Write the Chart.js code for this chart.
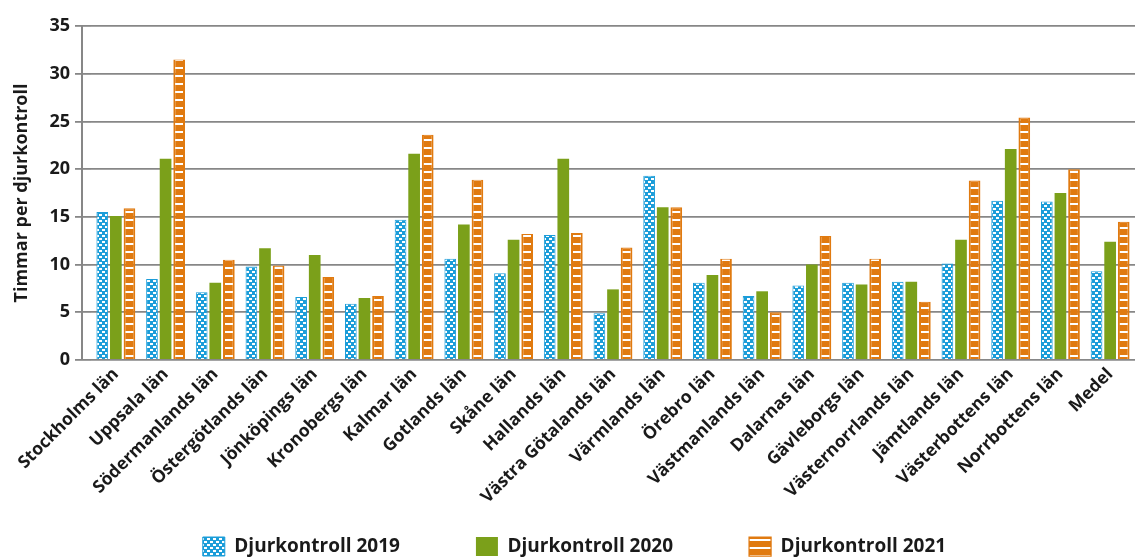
<!DOCTYPE html>
<html>
<head>
<meta charset="utf-8">
<script src="https://cdn.jsdelivr.net/npm/chart.js@4"></script>
<style>
  html, body { margin: 0; padding: 0; background: #fff; }
  #wrap { width: 1135px; height: 560px; }
</style>
</head>
<body>
<div id="wrap"><canvas id="barChart" width="1135" height="560"></canvas></div>
<script>
var categories = ['Stockholms län', 'Uppsala län', 'Södermanlands län', 'Östergötlands län', 'Jönköpings län',
  'Kronobergs län', 'Kalmar län', 'Gotlands län', 'Skåne län', 'Hallands län', 'Västra Götalands län',
  'Värmlands län', 'Örebro län', 'Västmanlands län', 'Dalarnas län', 'Gävleborgs län', 'Västernorrlands län',
  'Jämtlands län', 'Västerbottens län', 'Norrbottens län', 'Medel'];
var values2019 = [15.5, 8.5, 7.1, 9.8, 6.6, 5.9, 14.7, 10.6, 9.1, 13.1, 4.9, 19.3, 8.1, 6.7, 7.8, 8.1, 8.2, 10.1, 16.7, 16.6, 9.3];
var values2020 = [15.1, 21.1, 8.1, 11.7, 11.0, 6.5, 21.6, 14.2, 12.6, 21.1, 7.4, 16.0, 8.9, 7.2, 10.0, 7.9, 8.2, 12.6, 22.1, 17.5, 12.4];
var values2021 = [15.9, 31.5, 10.5, 9.9, 8.7, 6.7, 23.6, 18.9, 13.2, 13.3, 11.8, 16.0, 10.6, 5.0, 13.0, 10.6, 6.1, 18.8, 25.4, 20.0, 14.5];
var seriesNames = ['Djurkontroll 2019', 'Djurkontroll 2020', 'Djurkontroll 2021'];
var yMin = 0, yMax = 35, yStep = 5;

var blue = '#1b9dd9';
var green = '#7ba01a';
var orange = '#e07a10';
var textColor = '#1a1a1a';
var gridColor = '#878787';
var fontFamily = '"Open Sans", "DejaVu Sans", sans-serif';
var legendGap = 76;

// small dashed brick pattern for 2019
function dotPattern() {
  var c = document.createElement('canvas');
  c.width = 6; c.height = 6;
  var g = c.getContext('2d');
  g.fillStyle = blue;
  g.fillRect(0, 0, 6, 6);
  g.fillStyle = '#ffffff';
  g.fillRect(0, 1, 3, 2);
  g.fillRect(3, 4, 3, 2);
  return g.createPattern(c, 'repeat');
}

// horizontal stripes for 2021
function stripePattern() {
  var c = document.createElement('canvas');
  c.width = 8; c.height = 8;
  var g = c.getContext('2d');
  g.fillStyle = orange;
  g.fillRect(0, 0, 8, 8);
  g.fillStyle = '#ffffff';
  g.fillRect(0, 3, 8, 2);
  return g.createPattern(c, 'repeat');
}

// vertical axis line sits a little left of the first category
var yAxisLine = {
  id: 'yAxisLine',
  beforeDatasetsDraw: function (chart) {
    var ctx = chart.ctx;
    var y = chart.scales.y;
    var x = chart.chartArea.left - 9;
    ctx.save();
    ctx.strokeStyle = gridColor;
    ctx.lineWidth = 2;
    ctx.beginPath();
    ctx.moveTo(x, y.getPixelForValue(yMax));
    ctx.lineTo(x, y.getPixelForValue(yMin));
    ctx.stroke();
    ctx.restore();
  }
};

// legend rows start at top + padding, so lift the box to keep the wide item gap
var legendPlace = {
  id: 'legendPlace',
  afterLayout: function (chart) {
    var lg = chart.legend;
    lg.top = 537 - legendGap;
    lg.bottom = chart.height;
    lg.height = lg.bottom - lg.top;
    lg.left = 14;
    lg.right = chart.width;
    lg.width = lg.right - lg.left;
  }
};

var ctx = document.getElementById('barChart');
var barChart = new Chart(ctx, {
  type: 'bar',
  data: {
    labels: categories,
    datasets: [{
      label: seriesNames[0],
      data: values2019,
      backgroundColor: dotPattern(),
      borderColor: blue,
      borderWidth: 1
    }, {
      label: seriesNames[1],
      data: values2020,
      backgroundColor: green,
      borderWidth: 0
    }, {
      label: seriesNames[2],
      data: values2021,
      backgroundColor: stripePattern(),
      borderColor: orange,
      borderWidth: { left: 2, right: 2, top: 1, bottom: 0 }
    }]
  },
  plugins: [yAxisLine, legendPlace],
  options: {
    responsive: false,
    animation: false,
    layout: { padding: { top: 26, left: 0, right: 0, bottom: 0 } },
    datasets: { bar: { categoryPercentage: 0.82, barPercentage: 0.86 } },
    plugins: {
      tooltip: { enabled: false },
      legend: {
        position: 'bottom',
        maxHeight: 24,
        labels: {
          color: textColor,
          font: { family: fontFamily, size: 19, weight: 'bold' },
          boxWidth: 22,
          boxHeight: 19,
          padding: legendGap
        }
      }
    },
    scales: {
      x: {
        afterFit: function (scale) { scale.height = 176; },
        grid: { display: false, drawTicks: false },
        border: { display: false },
        ticks: {
          color: textColor,
          font: { family: fontFamily, size: 17.5, weight: 'bold' },
          maxRotation: 45,
          minRotation: 45,
          autoSkip: false,
          padding: 4
        }
      },
      y: {
        min: yMin,
        max: yMax,
        afterFit: function (scale) { scale.width = 91; },
        border: { display: false },
        grid: { color: gridColor, lineWidth: 1.8, tickLength: 16 },
        ticks: {
          stepSize: yStep,
          color: textColor,
          padding: 5,
          font: { family: fontFamily, size: 18, weight: 'bold' }
        },
        title: {
          display: true,
          text: 'Timmar per djurkontroll',
          color: textColor,
          padding: { top: 11, bottom: 0 },
          font: { family: fontFamily, size: 18, weight: 'bold' }
        }
      }
    }
  }
});
</script>
</body>
</html>
